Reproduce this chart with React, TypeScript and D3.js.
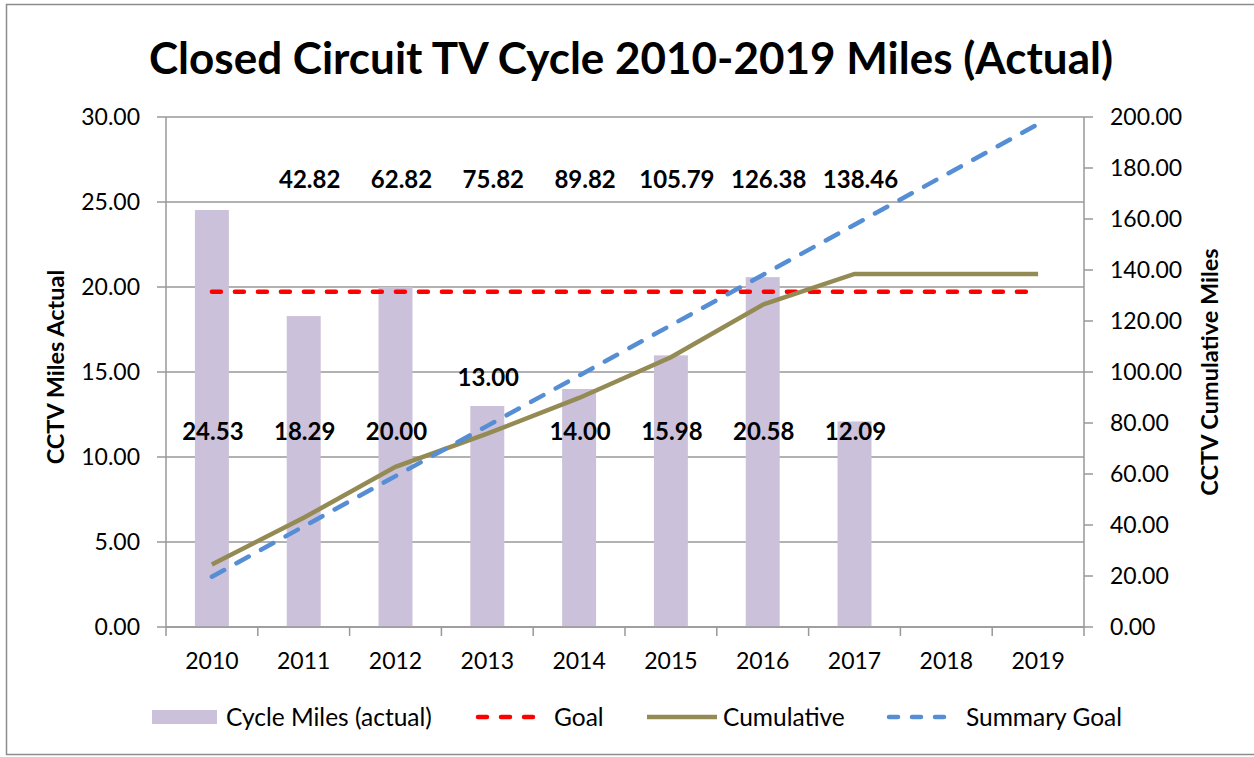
import React from 'react';
import * as d3 from 'd3';

const years = ["2010", "2011", "2012", "2013", "2014", "2015", "2016", "2017", "2018", "2019"];
const cycleMiles = [24.53, 18.29, 20.0, 13.0, 14.0, 15.98, 20.58, 12.09];
const cumulative = [24.53, 42.82, 62.82, 75.82, 89.82, 105.79, 126.38, 138.46, 138.46, 138.46];
const goal = [19.72, 19.72, 19.72, 19.72, 19.72, 19.72, 19.72, 19.72, 19.72, 19.72];
const summaryGoal = [19.72, 39.44, 59.16, 78.88, 98.6, 118.32, 138.04, 157.76, 177.48, 197.2];
const leftTicks = [0, 5, 10, 15, 20, 25, 30];
const rightTicks = [0, 20, 40, 60, 80, 100, 120, 140, 160, 180, 200];

const W = 1254;
const H = 757;
const FONT = "Lato, 'Open Sans', sans-serif";
const GRID = "#989898";

export default function App() {
  const plot = { left: 166, right: 1084, top: 117, bottom: 627 };

  const x = d3.scaleBand<string>()
    .domain(years)
    .range([plot.left, plot.right])
    .paddingInner(0.63)
    .paddingOuter(0.315);
  const step = x.step();
  const cx = (y: string) => (x(y) ?? 0) + x.bandwidth() / 2;

  const yL = d3.scaleLinear().domain([0, 30]).range([plot.bottom, plot.top]);
  const yR = d3.scaleLinear().domain([0, 200]).range([plot.bottom, plot.top]);

  const lineL = d3.line<number>().x((_, i) => cx(years[i])).y(d => yL(d));
  const lineR = d3.line<number>().x((_, i) => cx(years[i])).y(d => yR(d));

  const boundaries = d3.range(years.length + 1).map(i => plot.left + i * step);
  // the 2013 label sits above its bar, the rest on one row
  const aboveBar = new Set(["2013"]);

  return (
    <svg width={W} height={H} style={{ position: 'absolute', left: 0, top: 0 }} fontFamily={FONT}>
      <rect x={0} y={0} width={W} height={H} fill="#fff" />
      <rect x={6.5} y={4.5} width={W + 10} height={750} fill="#fff" stroke="#8c8c8c" strokeWidth={1.5} />

      {/* title */}
      <text x={631} y={74} textAnchor="middle" fontSize={44} fontWeight="bold" fill="#000">
        Closed Circuit TV Cycle 2010-2019 Miles (Actual)
      </text>

      {/* gridlines + left ticks */}
      {leftTicks.map(t => (
        <line key={"g" + t} x1={plot.left - 9} x2={plot.right} y1={yL(t)} y2={yL(t)} stroke={GRID} strokeWidth={1.5} />
      ))}
      {leftTicks.map(t => (
        <text key={"lt" + t} x={140} y={yL(t) + 8} textAnchor="end" fontSize={23} fill="#000">
          {t.toFixed(2)}
        </text>
      ))}

      {/* bars */}
      {cycleMiles.map((v, i) => (
        <rect key={"b" + i} x={x(years[i])} y={yL(v)} width={x.bandwidth()} height={yL(0) - yL(v)} fill="#CCC1DA" />
      ))}

      {/* axes */}
      <line x1={plot.left} x2={plot.left} y1={plot.top} y2={plot.bottom} stroke={GRID} strokeWidth={1.5} />
      <line x1={plot.right} x2={plot.right} y1={plot.top} y2={plot.bottom} stroke={GRID} strokeWidth={1.5} />
      <line x1={plot.left} x2={plot.right} y1={plot.bottom} y2={plot.bottom} stroke={GRID} strokeWidth={1.5} />
      {boundaries.map((b, i) => (
        <line key={"xt" + i} x1={b} x2={b} y1={plot.bottom} y2={plot.bottom + 9} stroke={GRID} strokeWidth={1.5} />
      ))}
      {years.map(y => (
        <text key={"xl" + y} x={cx(y)} y={669} textAnchor="middle" fontSize={23} fill="#000">{y}</text>
      ))}
      {rightTicks.map(t => (
        <g key={"rt" + t}>
          <line x1={plot.right} x2={plot.right + 9} y1={yR(t)} y2={yR(t)} stroke={GRID} strokeWidth={1.5} />
          <text x={1110} y={yR(t) + 8} fontSize={23} fill="#000">{t.toFixed(2)}</text>
        </g>
      ))}

      {/* axis titles */}
      <text transform="translate(64,367) rotate(-90)" textAnchor="middle" fontSize={23.5} fontWeight="bold" fill="#000">
        CCTV Miles Actual
      </text>
      <text transform="translate(1218,372) rotate(-90)" textAnchor="middle" fontSize={23.5} fontWeight="bold" fill="#000">
        CCTV Cumulative Miles
      </text>

      {/* series */}
      <path d={lineL(goal) ?? ""} fill="none" stroke="#FF0000" strokeWidth={4.5} strokeDasharray="9,14" strokeLinecap="round" />
      <path d={lineR(cumulative) ?? ""} fill="none" stroke="#948A54" strokeWidth={4.5} />
      <path d={lineR(summaryGoal) ?? ""} fill="none" stroke="#558ED5" strokeWidth={4.5} strokeDasharray="14,14" strokeLinecap="round" />

      {/* data labels */}
      {cumulative.slice(1, 8).map((v, i) => (
        <text key={"cl" + i} x={cx(years[i + 1]) + 6} y={188} textAnchor="middle" fontSize={24} fontWeight="bold" fill="#000">
          {v.toFixed(2)}
        </text>
      ))}
      {cycleMiles.map((v, i) => {
        const yy = aboveBar.has(years[i]) ? yL(v) - 20 : yL(11.5) + 8;
        return (
          <text key={"bl" + i} x={cx(years[i]) + 1} y={yy} textAnchor="middle" fontSize={24} fontWeight="bold" fill="#000">
            {v.toFixed(2)}
          </text>
        );
      })}

      {/* legend */}
      <g fontSize={24.5} fill="#000">
        <rect x={152} y={710} width={65} height={14} fill="#CCC1DA" />
        <text x={226} y={726}>Cycle Miles (actual)</text>
        <line x1={478} x2={538} y1={717} y2={717} stroke="#FF0000" strokeWidth={4.5} strokeDasharray="9,14" strokeLinecap="round" />
        <text x={554} y={726}>Goal</text>
        <line x1={647} x2={717} y1={717} y2={717} stroke="#948A54" strokeWidth={4.5} />
        <text x={723} y={726}>Cumulative</text>
        <line x1={889} x2={949} y1={717} y2={717} stroke="#558ED5" strokeWidth={4.5} strokeDasharray="9,14" strokeLinecap="round" />
        <text x={966} y={726}>Summary Goal</text>
      </g>
    </svg>
  );
}
